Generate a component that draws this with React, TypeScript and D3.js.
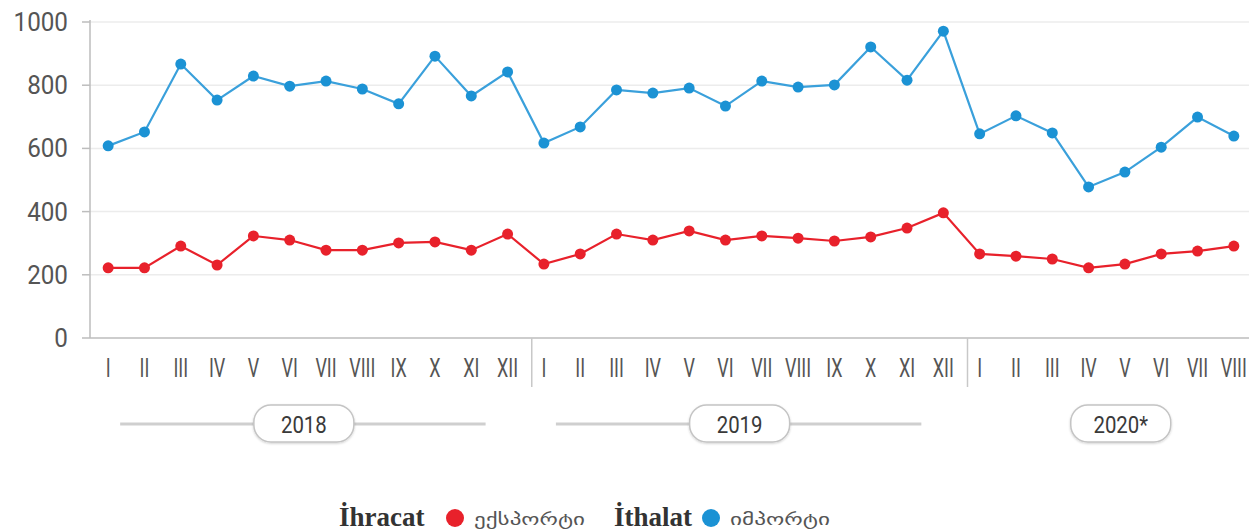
import React from 'react';
import * as d3 from 'd3';

const months = ['I', 'II', 'III', 'IV', 'V', 'VI', 'VII', 'VIII', 'IX', 'X', 'XI', 'XII'];
const years = ['2018', '2019', '2020*'];
const monthsPerYear = [12, 12, 8];

// ihracat (export) values, mln
const exportValues = [
  222, 222, 291, 231, 323, 310, 278, 278, 301, 304, 278, 329,
  234, 266, 329, 310, 339, 310, 323, 316, 307, 320, 348, 396,
  266, 259, 250, 222, 234, 266, 275, 291,
];
// ithalat (import) values, mln
const importValues = [
  608, 652, 867, 753, 829, 797, 813, 788, 741, 892, 766, 842,
  617, 668, 785, 775, 791, 734, 813, 794, 801, 921, 816, 971,
  646, 703, 649, 478, 525, 604, 699, 639,
];
const yTicks = [0, 200, 400, 600, 800, 1000];

const RED = '#e8212b';
const BLUE = '#1b92d4';
const BLUE_LINE = '#3aa0db';

const W = 1249;
const H = 531;

const App = () => {
  const periods: { key: string; label: string; year: number }[] = [];
  years.forEach((y, yi) => {
    for (let m = 0; m < monthsPerYear[yi]; m++) {
      periods.push({ key: `${y}-${m}`, label: months[m], year: yi });
    }
  });

  const x = d3.scaleBand<string>()
    .domain(periods.map(p => p.key))
    .range([90, 1252]);
  const y = d3.scaleLinear().domain([0, 1000]).range([338, 22]);
  const step = x.step();
  const cx = (i: number) => (x(periods[0].key) as number) + step * i + x.bandwidth() / 2;

  const line = d3.line<number>()
    .x((_, i) => cx(i))
    .y(d => y(d));

  // year groups
  const groups: { label: string; start: number; end: number; count: number }[] = [];
  let idx = 0;
  years.forEach((yr, yi) => {
    const n = monthsPerYear[yi];
    groups.push({ label: yr, start: idx, end: idx + n - 1, count: n });
    idx += n;
  });

  const narrow = 'Roboto, sans-serif';

  return (
    <svg width={W} height={H} style={{ position: 'absolute', left: 0, top: 0, background: '#fff' }}>
      <defs>
        <filter id="pillShadow" x="-10%" y="-20%" width="120%" height="150%">
          <feDropShadow dx="0" dy="1" stdDeviation="1" floodColor="#000" floodOpacity="0.18" />
        </filter>
      </defs>
      {/* grid */}
      {yTicks.filter(t => t > 0).map(t => (
        <line key={t} x1={90} x2={W} y1={y(t)} y2={y(t)} stroke="#ececec" strokeWidth={1.5} />
      ))}
      {/* axes */}
      <line x1={90} x2={90} y1={20} y2={338} stroke="#bdbdbd" strokeWidth={1.5} />
      <line x1={90} x2={W} y1={338} y2={338} stroke="#bdbdbd" strokeWidth={1.5} />
      {yTicks.map(t => (
        <g key={t}>
          <line x1={82} x2={90} y1={y(t)} y2={y(t)} stroke="#bdbdbd" strokeWidth={1.5} />
          <text x={68} y={y(t)} dy="0.36em" textAnchor="end" fontFamily="Roboto, sans-serif"
            fontSize={25} fill="#555" transform={`translate(68,0) scale(0.97,1) translate(-68,0)`}>{t}</text>
        </g>
      ))}
      {/* year separators */}
      {groups.slice(0, -1).map(g => {
        const sx = cx(g.end) + step / 2 + 6;
        return <line key={g.label} x1={sx} x2={sx} y1={338} y2={387} stroke="#c8c8c8" strokeWidth={1.5} />;
      })}
      {/* month labels */}
      {periods.map((p, i) => (
        <text key={p.key} textAnchor="middle" dy="0.36em"
          transform={`translate(${cx(i)},368) scale(0.72,1)`}
          fontFamily={narrow} fontSize={25} fill="#555">{p.label}</text>
      ))}
      {/* year badges */}
      {groups.map(g => {
        const full = g.count === 12;
        const left = cx(g.start) + 12;
        const right = cx(g.start + 11) - 22;
        const center = full ? (cx(g.start) + cx(g.start + 11)) / 2 - 4 : (cx(g.start) + cx(g.end)) / 2 + 14;
        return (
          <g key={g.label}>
            {full && (
              <line x1={left} x2={right} y1={424} y2={424} stroke="#cfcfcf" strokeWidth={3} />
            )}
            <rect x={center - 50} y={405} width={100} height={37} rx={17}
              fill="#fff" stroke="#c4c4c4" strokeWidth={1.5} filter="url(#pillShadow)" />
            <text textAnchor="middle" dy="0.36em"
              transform={`translate(${center},424) scale(0.85,1)`}
              fontFamily={narrow} fontSize={24} fill="#3a3a3a">{g.label}</text>
          </g>
        );
      })}
      {/* series */}
      <path d={line(importValues) || ''} fill="none" stroke={BLUE_LINE} strokeWidth={2.2} />
      {importValues.map((v, i) => (
        <circle key={'i' + i} cx={cx(i)} cy={y(v)} r={5.5} fill={BLUE} />
      ))}
      <path d={line(exportValues) || ''} fill="none" stroke={RED} strokeWidth={2.2} />
      {exportValues.map((v, i) => (
        <circle key={'e' + i} cx={cx(i)} cy={y(v)} r={5.5} fill={RED} />
      ))}
      {/* legend */}
      <g>
        <text x={339} y={526} fontFamily="'Liberation Serif', serif" fontWeight="bold" fontSize={27} fill="#333">İhracat</text>
        <circle cx={455} cy={518} r={9} fill={RED} />
        <text x={474} y={525} fontFamily="'DejaVu Sans', sans-serif" fontSize={17} fill="#555"
          textLength={111} lengthAdjust="spacingAndGlyphs">ექსპორტი</text>
        <text x={614} y={526} fontFamily="'Liberation Serif', serif" fontWeight="bold" fontSize={27} fill="#333">İthalat</text>
        <circle cx={711} cy={518} r={9} fill={BLUE} />
        <text x={730} y={525} fontFamily="'DejaVu Sans', sans-serif" fontSize={17} fill="#555"
          textLength={100} lengthAdjust="spacingAndGlyphs">იმპორტი</text>
      </g>
    </svg>
  );
};

export default App;
